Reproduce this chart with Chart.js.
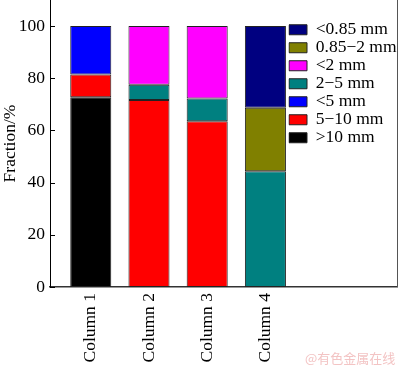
<!DOCTYPE html>
<html>
<head>
<meta charset="utf-8">
<script src="https://cdn.jsdelivr.net/npm/chart.js@4"></script>
<style>
  html, body { margin: 0; padding: 0; background: #fff; }
  #wrap { width: 400px; height: 367px; }
</style>
</head>
<body>
<div id="wrap"><canvas id="myChart"></canvas></div>
<script>
// data (fraction, %)
const columns = ['Column 1', 'Column 2', 'Column 3', 'Column 4'];
const colPos = [1, 2, 3, 4];
const yTicks = [0, 20, 40, 60, 80, 100];

const over10 = [72.7, null, null, null];
const mm5to10 = [8.7, 71.7, 63.5, null];
const under5 = [18.6, null, null, null];
const mm2to5 = [null, 5.8, 8.7, 44.4];
const under2 = [null, 22.5, 27.8, null];
const mm085to2 = [null, null, null, 24.3];
const under085 = [null, null, null, 31.3];

const serif = '"Liberation Serif", "Times New Roman", serif';

function pts(vals) {
  return vals.map((v, i) => ({ x: colPos[i], y: v })).filter(p => p.y !== null);
}

function ds(label, vals, color) {
  return {
    label: label,
    data: pts(vals),
    backgroundColor: color,
    borderColor: '#222',
    borderWidth: 1,
    borderSkipped: false
  };
}

// legend sits inside the plot, top right
const legendPos = {
  id: 'legendPos',
  afterLayout(chart) {
    const lg = chart.legend;
    const w = lg.width, h = lg.height;
    lg.left = 288.5;
    lg.right = lg.left + w;
    lg.top = 20.5;
    lg.bottom = lg.top + h;
  }
};

// inward ticks, right frame line and the watermark
const extras = {
  id: 'extras',
  afterDraw(chart) {
    const c = chart.ctx;
    const ca = chart.chartArea;
    const y = chart.scales.y;
    c.save();
    c.strokeStyle = '#000';
    c.lineWidth = 1;
    yTicks.forEach(v => {
      const py = Math.round(y.getPixelForValue(v)) + 0.5;
      c.beginPath();
      c.moveTo(ca.left, py);
      c.lineTo(ca.left + 5, py);
      c.stroke();
    });
    c.strokeStyle = '#555';
    c.beginPath();
    c.moveTo(ca.right + 0.5, ca.top);
    c.lineTo(ca.right + 0.5, ca.bottom);
    c.stroke();
    c.fillStyle = '#f3c4c4';
    c.font = '13px "Noto Sans CJK SC"';
    c.textBaseline = 'alphabetic';
    c.fillText('@有色金属在线', 305, 363);
    c.restore();
  }
};

const ctx = document.getElementById('myChart');

new Chart(ctx, {
  type: 'bar',
  data: {
    datasets: [
      ds('>10 mm', over10, '#000000'),
      ds('5\u221210 mm', mm5to10, '#ff0000'),
      ds('<5 mm', under5, '#0000ff'),
      ds('2\u22125 mm', mm2to5, '#008080'),
      ds('<2 mm', under2, '#ff00ff'),
      ds('0.85\u22122 mm', mm085to2, '#808000'),
      ds('<0.85 mm', under085, '#000080')
    ]
  },
  options: {
    responsive: true,
    maintainAspectRatio: false,
    animation: false,
    barPercentage: 0.705,
    categoryPercentage: 1,
    layout: { padding: { top: 0, right: 3, left: 0, bottom: 0 } },
    plugins: {
      legend: {
        position: 'chartArea',
        align: 'start',
        reverse: true,
        labels: {
          boxWidth: 18,
          boxHeight: 10,
          padding: 0.5,
          color: '#000',
          font: { family: serif, size: 17.5 }
        }
      },
      tooltip: { enabled: false }
    },
    scales: {
      x: {
        type: 'linear',
        min: 0.3,
        max: 6.26,
        offset: false,
        stacked: true,
        afterBuildTicks: s => { s.ticks = colPos.map(v => ({ value: v })); },
        afterFit: s => { s.height = 80; s.paddingLeft = 0; s.paddingRight = 0; },
        grid: { display: false, drawTicks: false },
        border: { color: '#333', width: 1.5 },
        ticks: {
          autoSkip: false,
          minRotation: 90,
          maxRotation: 90,
          padding: 6,
          color: '#000',
          font: { family: serif, size: 17.5 },
          callback: v => columns[colPos.indexOf(v)]
        }
      },
      y: {
        min: 0,
        max: 110,
        stacked: true,
        afterBuildTicks: s => { s.ticks = yTicks.map(v => ({ value: v })); },
        afterFit: s => { s.width = 50; s.paddingTop = 0; s.paddingBottom = 0; },
        grid: { display: false, drawTicks: false },
        border: { color: '#000', width: 1 },
        ticks: {
          padding: 5,
          color: '#000',
          font: { family: serif, size: 17.5 }
        },
        title: {
          display: true,
          text: 'Fraction/%',
          color: '#000',
          padding: { top: 0, bottom: 0 },
          font: { family: serif, size: 17.5 }
        }
      }
    }
  },
  plugins: [legendPos, extras]
});
</script>
</body>
</html>
